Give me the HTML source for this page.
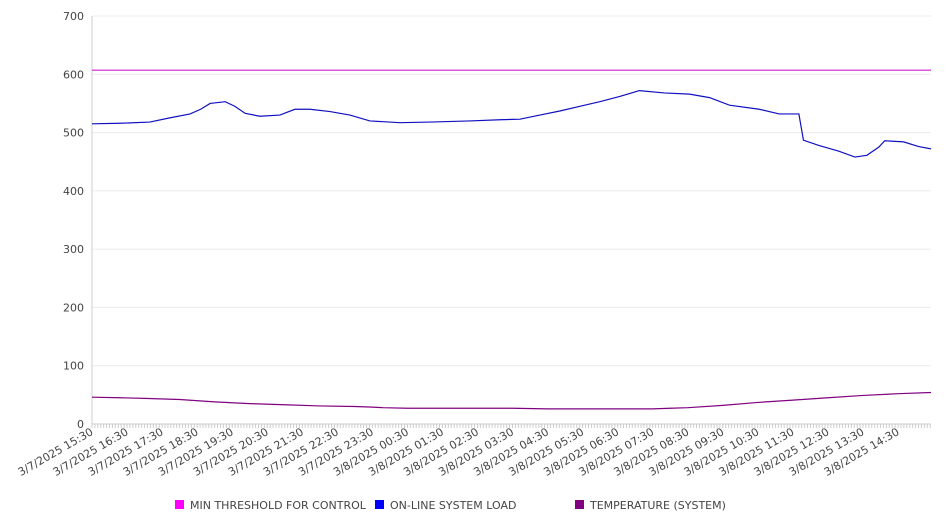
<!DOCTYPE html>
<html><head><meta charset="utf-8"><style>
body{margin:0;background:#fff;font-family:"DejaVu Sans","Liberation Sans",sans-serif;}
svg text{font-family:"DejaVu Sans","Liberation Sans",sans-serif;}
</style></head><body>
<svg id="chart" width="946" height="526" xmlns="http://www.w3.org/2000/svg"></svg>
<script>
const xLabels=["3/7/2025 15:30","3/7/2025 16:30","3/7/2025 17:30","3/7/2025 18:30","3/7/2025 19:30","3/7/2025 20:30","3/7/2025 21:30","3/7/2025 22:30","3/7/2025 23:30","3/8/2025 00:30","3/8/2025 01:30","3/8/2025 02:30","3/8/2025 03:30","3/8/2025 04:30","3/8/2025 05:30","3/8/2025 06:30","3/8/2025 07:30","3/8/2025 08:30","3/8/2025 09:30","3/8/2025 10:30","3/8/2025 11:30","3/8/2025 12:30","3/8/2025 13:30","3/8/2025 14:30"];
const yTicks=[0,100,200,300,400,500,600,700];
const loadHours=[0,0.8,1.65,2.2,2.8,3.1,3.37,3.8,4.08,4.37,4.79,5.36,5.79,6.22,6.79,7.36,7.93,8.79,9.64,10.78,11.64,12.21,12.78,13.35,13.92,14.49,15.06,15.62,16.33,17.05,17.62,18.19,19.04,19.61,20.17,20.3,20.74,21.31,21.77,22.11,22.45,22.62,23.16,23.59,23.94];
const loadValues=[515,516,518,525,532,540,550,553,545,533,528,530,540,540,536,530,520,517,518,520,522,523,530,537,545,553,562,572,568,566,560,547,540,532,532,487,478,468,458,461,475,486,484,476,472];
const tempHours=[0,0.8,1.5,2.5,3.5,4.5,5.5,6.5,7.5,8,8.3,9,10,11,12,13,14,15,16,16.5,17,18,19,20,21,22,23,23.94];
const tempValues=[46,45,44,42,38,35,33,31,30,29,28,27,27,27,27,26,26,26,26,27,28,32,37,41,45,49,52,54];
const thresholdValue=[607];
const X0=92,X1=931,Y0=424,Y1=16,HMAX=23.94;
const xs=h=>X0+(h/HMAX)*(X1-X0);
const ys=v=>Y0-(v/700)*(Y0-Y1);
const svg=document.getElementById('chart');
const NS='http://www.w3.org/2000/svg';
function mk(t,a,p){const e=document.createElementNS(NS,t);for(const k in a)e.setAttribute(k,a[k]);(p||svg).appendChild(e);return e;}
yTicks.forEach(v=>{
  const g=mk('line',{x1:X0,x2:X1,y1:ys(v),y2:ys(v),stroke:v===0?'#ccc':'#ebebeb','stroke-width':1});
  
  
  const t=mk('text',{x:X0-8,y:ys(v)+4,'text-anchor':'end','font-size':11,fill:'#444'});
  t.textContent=v;
  
  
});
const ax=mk('line',{x1:X0,x2:X0,y1:Y1,y2:Y0,stroke:'#ccc'});


for(let m=0;m<=HMAX*60;m+=5){
  const x=xs(m/60);
  const tk=mk('line',{x1:x,x2:x,y1:Y0,y2:Y0+4,stroke:'#ccc'});
  
  
}
xLabels.forEach((l,i)=>{
  const x=xs(i)+2,y=Y0+10;
  const t=mk('text',{x:x,y:y,'text-anchor':'end','font-size':11,fill:'#444',transform:`rotate(-30 ${x} ${y})`});
  t.textContent=l;
  
  
});
const th=mk('line',{x1:X0,x2:X1,y1:ys(thresholdValue[0]),y2:ys(thresholdValue[0]),stroke:'#cc22cc','stroke-width':1.2});


const lp=mk('polyline',{points:loadHours.map((h,i)=>xs(h)+','+ys(loadValues[i])).join(' '),fill:'none',stroke:'#1010c0','stroke-width':1.2});


const tp=mk('polyline',{points:tempHours.map((h,i)=>xs(h)+','+ys(tempValues[i])).join(' '),fill:'none',stroke:'#800080','stroke-width':1.2});


const leg=[["MIN THRESHOLD FOR CONTROL","#ff00ff",175],["ON-LINE SYSTEM LOAD","#0000ff",375],["TEMPERATURE (SYSTEM)","#800080",575]];
leg.forEach(L=>{
  const g=mk('g',{});
  
  
  mk('rect',{x:L[2],y:500,width:9,height:9,fill:L[1]},g);
  const t=mk('text',{x:L[2]+15,y:509,'font-size':11,fill:'#444'},g);
  t.textContent=L[0];
});
</script>
</body></html>
